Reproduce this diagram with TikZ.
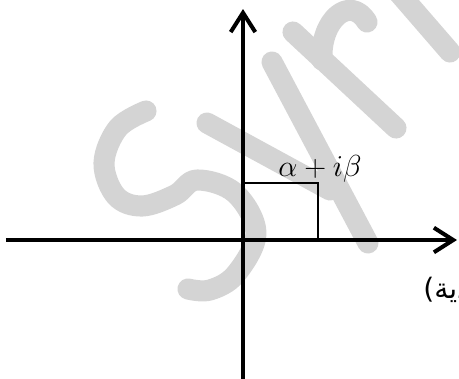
\documentclass[tikz,border=0pt]{standalone}
\usepackage{amsmath,amssymb}
\usepackage{fontspec}
\usepackage{xcolor}
\usepackage{tikz}
\usetikzlibrary{arrows.meta, positioning, calc}
\TeXXeTstate=1
\newfontfamily\arabicfont[Script=Arabic]{DejaVu Sans}
\definecolor{wmgray}{RGB}{212,212,212}
\tikzstyle{axis} = [line width=2.3pt, -{Straight Barb[length=11pt, width=14pt]}]
\tikzstyle{box} = [line width=0.85pt]
\tikzstyle{wm} = [line width=12pt, wmgray, line cap=round, line join=round]
\tikzstyle{lab} = [font=\fontsize{16}{18}\selectfont, inner sep=0pt]

\begin{document}
\begin{tikzpicture}[x=0.2mm, y=-0.2mm]
  % ---------- frame (pixel grid, y downwards) ----------
  \useasboundingbox (0,0) rectangle (459,378);
  \clip (0,0) rectangle (459,378);
  % ---------- watermark ----------
  \draw[wm] plot[smooth, tension=0.6] coordinates {(146,111) (118,128) (104,163) (116,196) (142,206) (175,195) (197,180) (235,193) (256,233) (236,274) (210,290) (188,289)};
  \draw[wm] (207,123) -- (330,190);
  \draw[wm] (272,62) -- (368,243);
  \draw[wm] (293,32) -- (396,128);
  \draw[wm] (322,60) .. controls (320,20) and (350,-6) .. (367,22);
  \draw[wm] (392,-15) -- (450,52);
  % ---------- axes ----------
  \coordinate (o)  at (243,240);
  \coordinate (xl) at (6,240);
  \coordinate (xr) at (457,240);
  \coordinate (yb) at (243,380);
  \coordinate (yt) at (243,9);
  \draw[axis] (xl) -- (xr);
  \draw[axis] (yb) -- (yt);
  % ---------- point and its box ----------
  \coordinate (z) at (318,183);
  \draw[box] (o |- z) -- (z) -- (z |- o);
  \node[lab, anchor=base] (zlab) at (320,176) {$\alpha + i\beta$};
  % ---------- caption (runs off the right edge) ----------
  \node[anchor=base west, inner sep=0pt, font=\fontsize{16}{18}\selectfont] (cap) at (423,298) {\arabicfont\beginR(مستوي الأعداد العقدية)\endR};
\end{tikzpicture}
\end{document}
